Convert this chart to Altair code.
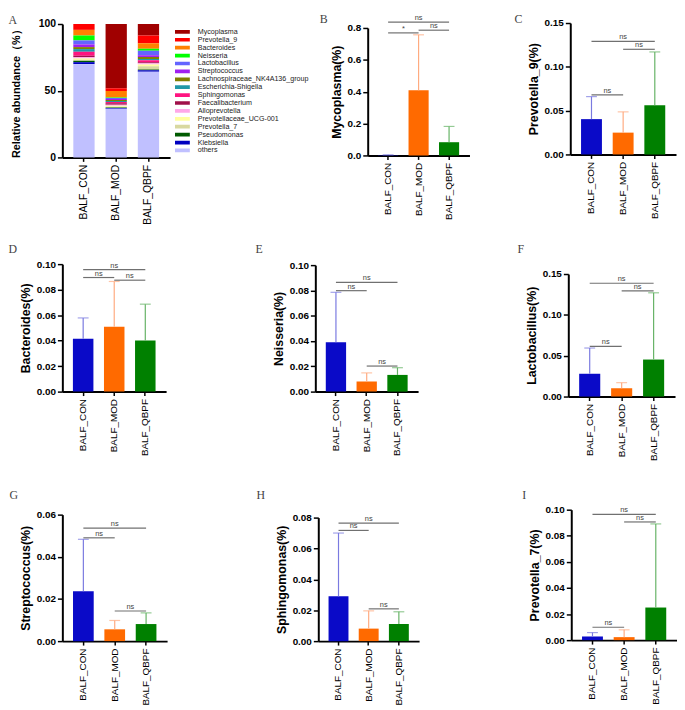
import altair as alt
import pandas as pd

# ---------------- data ----------------
groups = ["BALF_CON", "BALF_MOD", "BALF_QBPF"]
bar_colors = ["#0a0ac8", "#ff6a00", "#008000"]
err_colors = ["#7a7ae0", "#ffab80", "#66b366"]

genera = ["Mycoplasma", "Prevotella_9", "Bacteroides", "Neisseria", "Lactobacillus",
          "Streptococcus", "Lachnospiraceae_NK4A136_group", "Escherichia-Shigella",
          "Sphingomonas", "Faecalibacterium", "Alloprevotella", "Prevotellaceae_UCG-001",
          "Prevotella_7", "Pseudomonas", "Klebsiella", "others"]
genus_colors = ["#a00000", "#ff0000", "#ff8000", "#00ff00", "#6464ff", "#a020f0",
                "#808000", "#2098a8", "#ff1480", "#a0104a", "#ffa8e8", "#ffffa0",
                "#d8d8a0", "#005a00", "#0000c0", "#c0c0ff"]
abund_con = [0.0, 4.4, 4.2, 3.7, 3.0, 2.0, 1.5, 2.0, 3.0, 1.0, 1.0, 1.0, 0.8, 1.0, 1.5, 69.9]
abund_mod = [48.1, 2.2, 4.7, 0.5, 0.8, 0.7, 0.7, 0.7, 1.0, 1.2, 0.7, 0.7, 0.5, 0.5, 0.5, 36.5]
abund_qbpf = [8.6, 5.9, 4.0, 1.5, 3.5, 1.2, 1.5, 1.0, 1.5, 0.7, 1.0, 1.2, 2.5, 0.5, 1.2, 64.2]

myco_mean = [0.002, 0.409, 0.083]
myco_upper = [0.004, 0.757, 0.182]
myco_sig = [("BALF_CON", "BALF_QBPF", 0.837, "ns"), ("BALF_CON", "BALF_MOD", 0.769, "*"),
            ("BALF_MOD", "BALF_QBPF", 0.786, "ns")]

prev9_mean = [0.0403, 0.0249, 0.0562]
prev9_upper = [0.066, 0.0486, 0.117]
prev9_sig = [("BALF_CON", "BALF_QBPF", 0.129, "ns"), ("BALF_MOD", "BALF_QBPF", 0.120, "ns"),
             ("BALF_CON", "BALF_MOD", 0.068, "ns")]

bact_mean = [0.0415, 0.0508, 0.0400]
bact_upper = [0.0578, 0.0864, 0.0686]
bact_sig = [("BALF_CON", "BALF_QBPF", 0.0957, "ns"), ("BALF_CON", "BALF_MOD", 0.0895, "ns"),
            ("BALF_MOD", "BALF_QBPF", 0.0874, "ns")]

neis_mean = [0.0391, 0.0080, 0.0132]
neis_upper = [0.0785, 0.0148, 0.0189]
neis_sig = [("BALF_CON", "BALF_QBPF", 0.0863, "ns"), ("BALF_CON", "BALF_MOD", 0.0798, "ns"),
            ("BALF_MOD", "BALF_QBPF", 0.0202, "ns")]

lact_mean = [0.0279, 0.0101, 0.0453]
lact_upper = [0.0594, 0.0170, 0.1270]
lact_sig = [("BALF_CON", "BALF_QBPF", 0.1387, "ns"), ("BALF_MOD", "BALF_QBPF", 0.1294, "ns"),
            ("BALF_CON", "BALF_MOD", 0.0615, "ns")]

strep_mean = [0.0237, 0.0056, 0.0081]
strep_upper = [0.0483, 0.0098, 0.0134]
strep_sig = [("BALF_CON", "BALF_QBPF", 0.0536, "ns"), ("BALF_CON", "BALF_MOD", 0.0490, "ns"),
             ("BALF_MOD", "BALF_QBPF", 0.0143, "ns")]

sphin_mean = [0.0290, 0.0081, 0.0111]
sphin_upper = [0.0700, 0.0196, 0.0190]
sphin_sig = [("BALF_CON", "BALF_QBPF", 0.0764, "ns"), ("BALF_CON", "BALF_MOD", 0.0717, "ns"),
             ("BALF_MOD", "BALF_QBPF", 0.0209, "ns")]

prev7_mean = [0.0028, 0.0023, 0.0250]
prev7_upper = [0.0058, 0.0079, 0.0891]
prev7_sig = [("BALF_CON", "BALF_QBPF", 0.0964, "ns"), ("BALF_MOD", "BALF_QBPF", 0.0906, "ns"),
             ("BALF_CON", "BALF_MOD", 0.0099, "ns")]

# ---------------- layout (page pixels) ----------------
PAD = 0.34
ROW_TOP = [18, 265, 510]
CELL_H = 130
H_SPACE = 1
ROW_SPACE_12, ROW_SPACE_23 = 18, 27.5
# left, right, top, bottom, row, group width
BOX = {
    "A": (63, 172, 19, 154, 0, 372 - 63 - H_SPACE),
    "B": (372, 475, 23, 152, 0, 577 - 372 - H_SPACE),
    "C": (577, 684, 18, 151, 0, 684 - 577),
    "D": (63, 168, 265, 394, 1, 319 - 63 - H_SPACE),
    "E": (319, 423, 266, 394, 1, 575 - 319 - H_SPACE),
    "F": (575, 683, 275, 399, 1, 683 - 575),
    "G": (62, 168, 515, 643, 2, 321 - 62 - H_SPACE),
    "H": (321, 423, 518, 643, 2, 577 - 321 - H_SPACE),
    "I": (577, 684, 510, 642, 2, 684 - 577),
}
LETTER_POS = {"A": (8, 18.7), "B": (323, 17.5), "C": (520, 17.5),
              "D": (8, 253.3), "E": (258, 253.3), "F": (523, 253.3),
              "G": (8, 498.3), "H": (258, 498.3), "I": (527, 498.3)}
LEGEND_X, LEGEND_Y = 114, 5.4

FONT = "Liberation Sans"
INK = "#000000"
SIG_COLOR = "#707070"
NS_SIZE = 7.5


def geom(key):
    left, right, top, bottom, r, w = BOX[key]
    T = ROW_TOP[r]
    return [0, right - left], [bottom - T, top - T], bottom - (T + CELL_H), left, w


def axis_x(key, offset, size=10):
    left, right, top, bottom, r, w = BOX[key]
    lx, ly = LETTER_POS[key]
    return alt.Axis(title=key, titleX=lx - left, titleY=ly - bottom, titleAngle=0,
                    titleAlign="left", titleBaseline="alphabetic",
                    titleFont="Liberation Serif", titleFontSize=12, titleFontWeight="normal",
                    titleColor="#444444",
                    labelAngle=-90, labelFontSize=size, labelColor=INK,
                    labelPadding=3, tickSize=4, tickWidth=1.5, tickColor=INK,
                    domainWidth=2, domainColor=INK, offset=offset, labelFont=FONT,
                    grid=False, labelOverlap=False)


def axis_y(title, values, fmt, title_pad=4, title_size=12.5, label_size=10):
    return alt.Axis(title=title, values=values, format=fmt, grid=False, tickCount=20,
                    titleFont=FONT, titleFontSize=title_size, titleFontWeight="bold",
                    titleColor=INK, titlePadding=title_pad, labelFont=FONT,
                    labelFontSize=label_size, labelFontWeight="bold", labelColor=INK,
                    labelPadding=2, tickSize=5, tickWidth=1.5, tickColor=INK,
                    domainWidth=2, domainColor=INK, labelOverlap=False)


def bar_panel(key, ytitle, means, uppers, sig, ymax, ticks, fmt):
    xr, yr, xoff, left, w = geom(key)
    step = (xr[1] - xr[0]) / (3 + PAD)
    xs = alt.Scale(domain=groups, range=xr, paddingInner=PAD, paddingOuter=PAD)
    ys = alt.Scale(domain=[0, ymax], range=yr, nice=False, zero=True)
    df = pd.DataFrame({"group": groups, "mean": means, "upper": uppers})
    base = alt.Chart(df)
    layers = [base.mark_bar().encode(
        x=alt.X("group:N", scale=xs, axis=axis_x(key, xoff)),
        y=alt.Y("mean:Q", scale=ys, axis=axis_y(ytitle, ticks, fmt)),
        fill=alt.Fill("group:N", scale=alt.Scale(domain=groups, range=bar_colors), legend=None),
    )]
    for g, col in zip(groups, err_colors):
        sub = base.transform_filter(alt.datum.group == g)
        layers.append(sub.mark_rule(color=col, strokeWidth=1.2).encode(
            x=alt.X("group:N"), y=alt.Y("mean:Q"), y2="upper:Q"))
        layers.append(sub.mark_tick(color=col, size=11, thickness=1.2).encode(
            x=alt.X("group:N"), y=alt.Y("upper:Q")))
    sdf = pd.DataFrame(sig, columns=["g1", "g2", "y", "label"])
    sdf["mid"] = groups[1]
    is_span = (sdf.g1 == groups[0]) & (sdf.g2 == groups[2])
    span, adj = sdf[is_span], sdf[~is_span]
    layers.append(alt.Chart(sdf).mark_rule(color=SIG_COLOR, strokeWidth=1.2).encode(
        x=alt.X("g1:N"), x2="g2:N", y=alt.Y("y:Q")))
    txt = dict(fontSize=NS_SIZE, color="#444444", baseline="alphabetic", dy=-2, font=FONT)
    if len(span):
        layers.append(alt.Chart(span).mark_text(**txt).encode(
            x=alt.X("mid:N"), y=alt.Y("y:Q"), text="label:N"))
    if len(adj):
        layers.append(alt.Chart(adj).mark_text(dx=step / 2, **txt).encode(
            x=alt.X("g1:N"), y=alt.Y("y:Q"), text="label:N"))
    return alt.layer(*layers).properties(width=w, height=CELL_H)


def stack_panel():
    xr, yr, xoff, left, w = geom("A")
    rows = []
    for g, vals in zip(groups, [abund_con, abund_mod, abund_qbpf]):
        for i, (gen, v) in enumerate(zip(genera, vals)):
            rows.append({"group": g, "genus": gen, "value": v, "rank": len(genera) - 1 - i})
    adf = pd.DataFrame(rows)
    legend = alt.Legend(title=None, orient="none", legendX=LEGEND_X, legendY=LEGEND_Y,
                        symbolType="M-1,-0.25H1V0.25H-1Z", symbolSize=225,
                        symbolStrokeWidth=0, labelFontSize=7.2, labelFont=FONT,
                        labelColor="#222222", clipHeight=7.1, rowPadding=-2,
                        labelOffset=8, padding=0, labelLimit=300)
    ch = alt.Chart(adf).mark_bar().encode(
        x=alt.X("group:N", scale=alt.Scale(domain=groups, range=xr, paddingInner=PAD,
                                           paddingOuter=PAD), axis=axis_x("A", xoff, 10.5)),
        y=alt.Y("value:Q", stack="zero",
                scale=alt.Scale(domain=[0, 100], range=yr, nice=False),
                axis=axis_y("Relative abundance（%）", [0, 50, 100], "d",
                            title_pad=17, title_size=11, label_size=10.5)),
        color=alt.Color("genus:N", scale=alt.Scale(domain=genera, range=genus_colors),
                        legend=legend),
        order=alt.Order("rank:Q", sort="ascending"),
    )
    return ch.properties(width=w, height=CELL_H)


pA = stack_panel()
pB = bar_panel("B", "Mycoplasma(%)", myco_mean, myco_upper, myco_sig, 0.8,
               [0, 0.2, 0.4, 0.6, 0.8], ".1f")
pC = bar_panel("C", "Prevotella_9(%)", prev9_mean, prev9_upper, prev9_sig, 0.15,
               [0, 0.05, 0.10, 0.15], ".2f")
pD = bar_panel("D", "Bacteroides(%)", bact_mean, bact_upper, bact_sig, 0.10,
               [0, 0.02, 0.04, 0.06, 0.08, 0.10], ".2f")
pE = bar_panel("E", "Neisseria(%)", neis_mean, neis_upper, neis_sig, 0.10,
               [0, 0.02, 0.04, 0.06, 0.08, 0.10], ".2f")
pF = bar_panel("F", "Lactobacillus(%)", lact_mean, lact_upper, lact_sig, 0.15,
               [0, 0.05, 0.10, 0.15], ".2f")
pG = bar_panel("G", "Streptococcus(%)", strep_mean, strep_upper, strep_sig, 0.06,
               [0, 0.02, 0.04, 0.06], ".2f")
pH = bar_panel("H", "Sphingomonas(%)", sphin_mean, sphin_upper, sphin_sig, 0.08,
               [0, 0.02, 0.04, 0.06, 0.08], ".2f")
pI = bar_panel("I", "Prevotella_7(%)", prev7_mean, prev7_upper, prev7_sig, 0.10,
               [0, 0.02, 0.04, 0.06, 0.08, 0.10], ".2f")

row1 = alt.hconcat(pA, pB, pC, spacing=H_SPACE, bounds="flush")
row2 = alt.hconcat(pD, pE, pF, spacing=H_SPACE, bounds="flush")
row3 = alt.hconcat(pG, pH, pI, spacing=H_SPACE, bounds="flush")
lower = alt.vconcat(row2, row3, spacing=ROW_SPACE_23)

chart = (alt.vconcat(row1, lower, spacing=ROW_SPACE_12)
         .properties(padding=0)
         .configure(font=FONT)
         .configure_view(stroke=None))

chart.save("out.html", embed_options={"renderer": "svg", "actions": False})
